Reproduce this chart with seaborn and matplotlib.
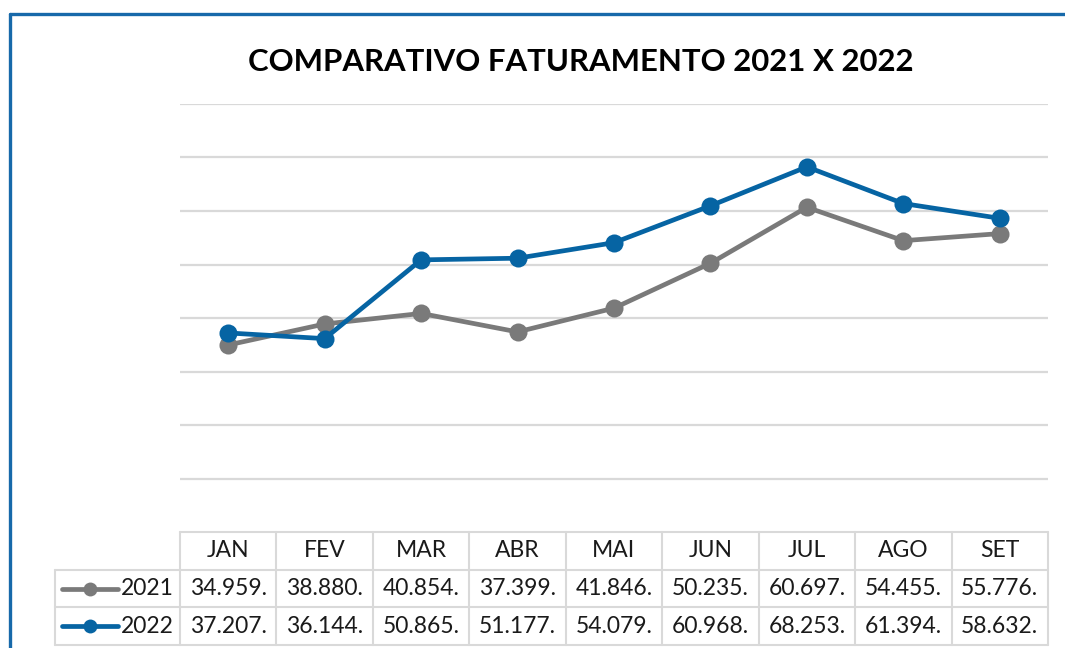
import matplotlib
matplotlib.use("Agg")
import matplotlib.pyplot as plt
import seaborn as sns
import pandas as pd
from matplotlib.lines import Line2D

months = ["JAN", "FEV", "MAR", "ABR", "MAI", "JUN", "JUL", "AGO", "SET"]
series_names = ["2021", "2022"]
values_2021 = [34.959, 38.880, 40.854, 37.399, 41.846, 50.235, 60.697, 54.455, 55.776]
values_2022 = [37.207, 36.144, 50.865, 51.177, 54.079, 60.968, 68.253, 61.394, 58.632]
title = "COMPARATIVO FATURAMENTO 2021 X 2022"

colors = {"2021": "#7a7a7a", "2022": "#0664a3"}
grid_c = "#d9d9d9"
W, H = 1065, 648

sns.set_theme(style="white")
plt.rcParams["font.family"] = ["Lato", "DejaVu Sans"]

df = pd.DataFrame({
    "mes": months * 2,
    "idx": list(range(len(months))) * 2,
    "valor": values_2021 + values_2022,
    "ano": ["2021"] * len(months) + ["2022"] * len(months),
})

fig = plt.figure(figsize=(W / 100, H / 100), dpi=100)
fig.patch.set_facecolor("white")

L, R = 180, 1048
ax = fig.add_axes([L / W, (H - 532) / H, (R - L) / W, (532 - 104) / H])
sns.lineplot(data=df, x="idx", y="valor", hue="ano", palette=colors,
             marker="o", markersize=13, markeredgewidth=0, linewidth=3.4,
             legend=False, ax=ax, zorder=3)
ax.set_xlim(-0.5, len(months) - 0.5)
ax.set_ylim(0, 80)
ax.set_yticks(range(10, 81, 10))
ax.yaxis.grid(True, color=grid_c, linewidth=1.6)
ax.xaxis.grid(False)
ax.set_xticks([])
ax.tick_params(left=False, labelleft=False)
ax.set_xlabel("")
ax.set_ylabel("")
for s in ax.spines.values():
    s.set_visible(False)

# data table
tab = fig.add_axes([L / W, (H - 645) / H, (R - L) / W, (645 - 532) / H], sharex=ax)
tab.set_ylim(0, 3)
tab.axis("off")
n = len(months)
lw = 1.5
leg_left = -0.5 - (L - 55) / ((R - L) / n)
tab.plot([-0.5, n - 0.5], [3, 3], color=grid_c, lw=lw, clip_on=False)
for yy in (0, 1, 2):
    tab.plot([leg_left, n - 0.5], [yy, yy], color=grid_c, lw=lw, clip_on=False)
for i in range(n + 1):
    tab.plot([i - 0.5, i - 0.5], [0, 3], color=grid_c, lw=lw, clip_on=False)
tab.plot([leg_left, leg_left], [0, 2], color=grid_c, lw=lw, clip_on=False)

fs = 16.5
for i, m in enumerate(months):
    tab.text(i, 2.5, m, ha="center", va="center", fontsize=fs, color="#1a1a1a")
rows = {"2021": values_2021, "2022": values_2022}
unit = (R - L) / n
for r, name in enumerate(series_names):
    yy = 1.5 - r
    for i, v in enumerate(rows[name]):
        tab.text(i, yy, f"{v:.3f}.", ha="center", va="center", fontsize=fs, color="#1a1a1a")
    x0 = leg_left + (62 - 55) / unit
    x1 = leg_left + (118 - 55) / unit
    tab.plot([x0, x1], [yy, yy], color=colors[name], lw=3.4, clip_on=False,
             solid_capstyle="round")
    tab.plot([(x0 + x1) / 2], [yy], marker="o", markersize=10, color=colors[name],
             markeredgewidth=0, clip_on=False)
    tab.text(-0.5 - 6 / unit, yy, name, ha="right", va="center", fontsize=fs, color="#1a1a1a")

fig.text(581 / W, (H - 62) / H, title, ha="center", va="center",
         fontsize=22.4, fontweight="bold", color="black")

border_c = "#1769aa"
fig.add_artist(Line2D([10 / W, 10 / W], [0, (H - 14) / H], color=border_c, lw=2.4,
                      transform=fig.transFigure))
fig.add_artist(Line2D([10 / W, 1], [(H - 14) / H, (H - 14) / H], color=border_c, lw=2.4,
                      transform=fig.transFigure))

fig.savefig("out.png", dpi=100)
